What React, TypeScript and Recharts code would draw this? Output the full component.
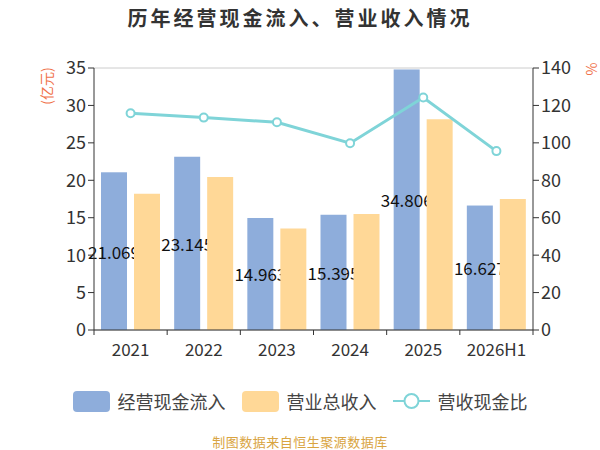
import React from "react";
import { ComposedChart, Bar, Line, XAxis, YAxis, CartesianGrid } from "recharts";

const years = ["2021", "2022", "2023", "2024", "2025", "2026H1"];
const cashInflow = [21.069, 23.145, 14.963, 15.395, 34.806, 16.627];
const revenue = [18.2, 20.45, 13.57, 15.5, 28.15, 17.5];
const cashRatio = [115.8, 113.5, 111.0, 99.8, 124.2, 95.6];
const leftTicks = [0, 5, 10, 15, 20, 25, 30, 35];
const rightTicks = [0, 20, 40, 60, 80, 100, 120, 140];

const FONT = '"Noto Sans CJK SC", "Noto Sans", sans-serif';
const BLUE = "#8eaddb";
const ORANGE = "#ffd897";
const TEAL = "#7fd4d8";
const UNIT = "#f0724a";

const data = years.map((year, i) => ({
  year,
  cash: cashInflow[i],
  revenue: revenue[i],
  ratio: cashRatio[i],
}));

const BAND = (533 - 94) / years.length;

// echarts-like x ticks: tick marks sit on the category boundaries
const XTick = ({ x, y, payload, index }: any) => (
  <g>
    <line x1={x - BAND / 2} x2={x - BAND / 2} y1={y - 8} y2={y - 3} stroke="#333" />
    {index === years.length - 1 && (
      <line x1={x + BAND / 2} x2={x + BAND / 2} y1={y - 8} y2={y - 3} stroke="#333" />
    )}
    <text x={x} y={y + 18} textAnchor="middle" fill="#333" fontSize={17} fontFamily={FONT}>
      {payload.value}
    </text>
  </g>
);

// blue bar draws its own value label so the orange bar drawn after it covers the overflow
const CashBar = (props: any) => {
  const { x, y, width, height, value } = props;
  return (
    <g>
      <rect x={x} y={y} width={width} height={height} fill={BLUE} />
      <text
        x={x + width / 2}
        y={y + height / 2}
        textAnchor="middle"
        dominantBaseline="central"
        fill="#111"
        fontSize={17}
        fontFamily={FONT}
      >
        {Array.isArray(value) ? value[1] : value}
      </text>
    </g>
  );
};

const unitLabel = (text: string, cx: number, cy: number) => () => (
  <text
    x={cx}
    y={cy}
    transform={`rotate(-90 ${cx} ${cy})`}
    textAnchor="middle"
    dominantBaseline="central"
    fill={UNIT}
    fontSize={14}
    fontFamily={FONT}
  >
    {text}
  </text>
);

const LegendBox = () => (
  <div
    style={{
      position: "absolute",
      top: 388,
      left: 0,
      width: 600,
      display: "flex",
      justifyContent: "center",
      alignItems: "center",
      fontFamily: FONT,
      fontSize: 18,
      color: "#444",
    }}
  >
    <span style={{ width: 37, height: 21, background: BLUE, borderRadius: 4, marginRight: 8 }} />
    <span style={{ marginRight: 16 }}>经营现金流入</span>
    <span style={{ width: 37, height: 21, background: ORANGE, borderRadius: 4, marginRight: 8 }} />
    <span style={{ marginRight: 16 }}>营业总收入</span>
    <svg width={37} height={20} style={{ marginRight: 8 }}>
      <line x1={0} x2={37} y1={10} y2={10} stroke={TEAL} strokeWidth={2} />
      <circle cx={18.5} cy={10} r={7} fill="#fff" stroke={TEAL} strokeWidth={2} />
    </svg>
    <span>营收现金比</span>
  </div>
);

export default function App() {
  return (
    <div style={{ position: "absolute", left: 0, top: 0, width: 600, height: 450, background: "#fff" }}>
      <div
        style={{
          position: "absolute",
          top: 3,
          width: 600,
          textAlign: "center",
          fontFamily: FONT,
          fontWeight: "bold",
          fontSize: 20,
          letterSpacing: 3,
          color: "#333",
        }}
      >
        历年经营现金流入、营业收入情况
      </div>
      <ComposedChart
        width={600}
        height={450}
        data={data}
        margin={{ top: 68, right: 0, left: 0, bottom: 90 }}
        barGap={7}
        barCategoryGap="9%"
      >
        <CartesianGrid vertical={false} stroke="#ccc" />
        <XAxis
          dataKey="year"
          height={30}
          stroke="#333"
          tickLine={false}
          tick={<XTick />}
          interval={0}
        />
        <YAxis
          yAxisId="left"
          width={94}
          domain={[0, 35]}
          ticks={leftTicks}
          stroke="#333"
          tickSize={6}
          tick={{ fill: "#333", fontSize: 18, fontFamily: FONT }}
          label={{ content: unitLabel("(亿元)", 46, 86) }}
        />
        <YAxis
          yAxisId="right"
          orientation="right"
          width={67}
          domain={[0, 140]}
          ticks={rightTicks}
          stroke="#333"
          tickSize={6}
          tick={{ fill: "#333", fontSize: 18, fontFamily: FONT }}
          label={{ content: unitLabel("%", 591, 69) }}
        />
        <Bar
          yAxisId="left"
          dataKey="cash"
          name="经营现金流入"
          fill={BLUE}
          barSize={26}
          shape={<CashBar />}
          isAnimationActive={false}
        />
        <Bar yAxisId="left" dataKey="revenue" name="营业总收入" fill={ORANGE} barSize={26} isAnimationActive={false} />
        <Line
          yAxisId="right"
          dataKey="ratio"
          name="营收现金比"
          stroke={TEAL}
          strokeWidth={3}
          dot={{ r: 4, fill: "#fff", stroke: TEAL, strokeWidth: 2 }}
          isAnimationActive={false}
        />
      </ComposedChart>
      <LegendBox />
      <div
        style={{
          position: "absolute",
          top: 432,
          width: 600,
          textAlign: "center",
          fontFamily: FONT,
          fontSize: 13,
          letterSpacing: 0.5,
          color: "#d9a441",
        }}
      >
        制图数据来自恒生聚源数据库
      </div>
    </div>
  );
}
